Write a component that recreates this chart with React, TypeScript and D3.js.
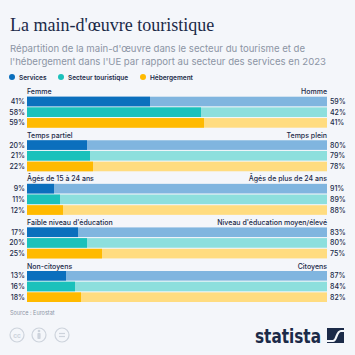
import React from "react";
import * as d3 from "d3";

const seriesNames = ["Services", "Secteur touristique", "Hébergement"];
const leftLabels = ["Femme", "Temps partiel", "Âgés de 15 à 24 ans", "Faible niveau d'éducation", "Non-citoyens"];
const rightLabels = ["Homme", "Temps plein", "Âgés de plus de 24 ans", "Niveau d'éducation moyen/élevé", "Citoyens"];
const servicesValues = [41, 20, 9, 17, 13];
const tourismValues = [58, 21, 11, 20, 16];
const accommodationValues = [59, 22, 12, 25, 18];

const darkColors = ["#0b6fbd", "#1bc1bb", "#ffba00"];
const lightColors = ["#80b5df", "#8ddfdd", "#ffdc80"];

export default function App() {
  const W = 355, H = 355;
  const x = d3.scaleLinear().domain([0, 100]).range([27, 327]);
  const groupY = d3.scaleLinear().domain([0, 4]).range([96.7, 271]);
  const rowBand = d3.scaleBand().domain(["0", "1", "2"]).range([0, 31]).paddingInner(0.1).paddingOuter(0);
  const series = [servicesValues, tourismValues, accommodationValues];
  const font = "Inter, 'Noto Sans', sans-serif";
  const navy = "#1b2a48";

  return (
    <svg width={W} height={H} style={{ position: "absolute", left: 0, top: 0 }}>
      <rect width={W} height={H} fill="#f4f6fa" />
      <text x={10} y={31} fontFamily="'Liberation Serif', 'DejaVu Serif', serif" fontSize={18} fill={navy}>La main-d'œuvre touristique</text>
      <text x={10} y={52} fontFamily={font} fontSize={9.6} fill="#8c95a5">Répartition de la main-d'œuvre dans le secteur du tourisme et de</text>
      <text x={10} y={65} fontFamily={font} fontSize={9.6} fill="#8c95a5">l'hébergement dans l'UE par rapport au secteur des services en 2023</text>
      {seriesNames.map((s, i) => {
        const lx = [12, 61, 143][i];
        return (
          <g key={s}>
            <circle cx={lx} cy={77} r={3} fill={darkColors[i]} />
            <text x={lx + 7} y={79.5} fontFamily={font} fontSize={6.5} fontWeight={600} fill={navy}>{s}</text>
          </g>
        );
      })}
      {leftLabels.map((lab, g) => {
        const gy = groupY(g);
        return (
          <g key={lab}>
            <text x={x(0)} y={gy - 2.5} fontFamily={font} fontSize={7} fontWeight={500} fill={navy}>{lab}</text>
            <text x={x(100)} y={gy - 2.5} textAnchor="end" fontFamily={font} fontSize={7} fontWeight={500} fill={navy}>{rightLabels[g]}</text>
            {series.map((vals, i) => {
              const y = gy + (rowBand(String(i)) as number);
              const h = rowBand.bandwidth();
              const v = vals[g];
              return (
                <g key={i}>
                  <rect x={x(0)} y={y} width={x(100) - x(0)} height={h} fill={lightColors[i]} />
                  <rect x={x(0)} y={y} width={x(v) - x(0)} height={h} fill={darkColors[i]} />
                  <text x={x(0) - 2} y={y + h / 2 + 2.5} textAnchor="end" fontFamily={font} fontSize={7} fontWeight={500} fill={navy}>{v}%</text>
                  <text x={x(100) + 3} y={y + h / 2 + 2.5} fontFamily={font} fontSize={7} fontWeight={500} fill={navy}>{100 - v}%</text>
                </g>
              );
            })}
          </g>
        );
      })}
      <text x={10} y={315} fontFamily={font} fontSize={5.5} fill="#8c95a5">Source : Eurostat</text>
      {[17, 39, 62].map((cx, i) => (
        <g key={cx} stroke="#cdd3dc" fill="none" strokeWidth={1.2}>
          <circle cx={cx} cy={335} r={7} />
          {i === 0 && <text x={cx} y={337.5} textAnchor="middle" fontFamily={font} fontSize={6.5} fontWeight={700} fill="#cdd3dc" stroke="none">cc</text>}
          {i === 1 && (
            <g fill="#cdd3dc" stroke="none">
              <circle cx={cx} cy={331} r={1.3} />
              <rect x={cx - 1.6} y={333} width={3.2} height={6} rx={0.8} />
            </g>
          )}
          {i === 2 && (
            <g>
              <line x1={cx - 3} x2={cx + 3} y1={333.5} y2={333.5} />
              <line x1={cx - 3} x2={cx + 3} y1={336.5} y2={336.5} />
            </g>
          )}
        </g>
      ))}
      <text x={255} y={343} fontFamily="'DejaVu Sans', 'Noto Sans', sans-serif" fontSize={19} fontWeight={700} fill="#1b2a48" textLength={66} lengthAdjust="spacingAndGlyphs">statista</text>
      <g>
        <rect x={327} y={328} width={17} height={15} fill="#1b2a48" />
        <path d="M327,341 L333,341 C337,341 336,331 341,331 L344,331" stroke="#f4f6fa" strokeWidth={2.2} fill="none" />
      </g>
    </svg>
  );
}
